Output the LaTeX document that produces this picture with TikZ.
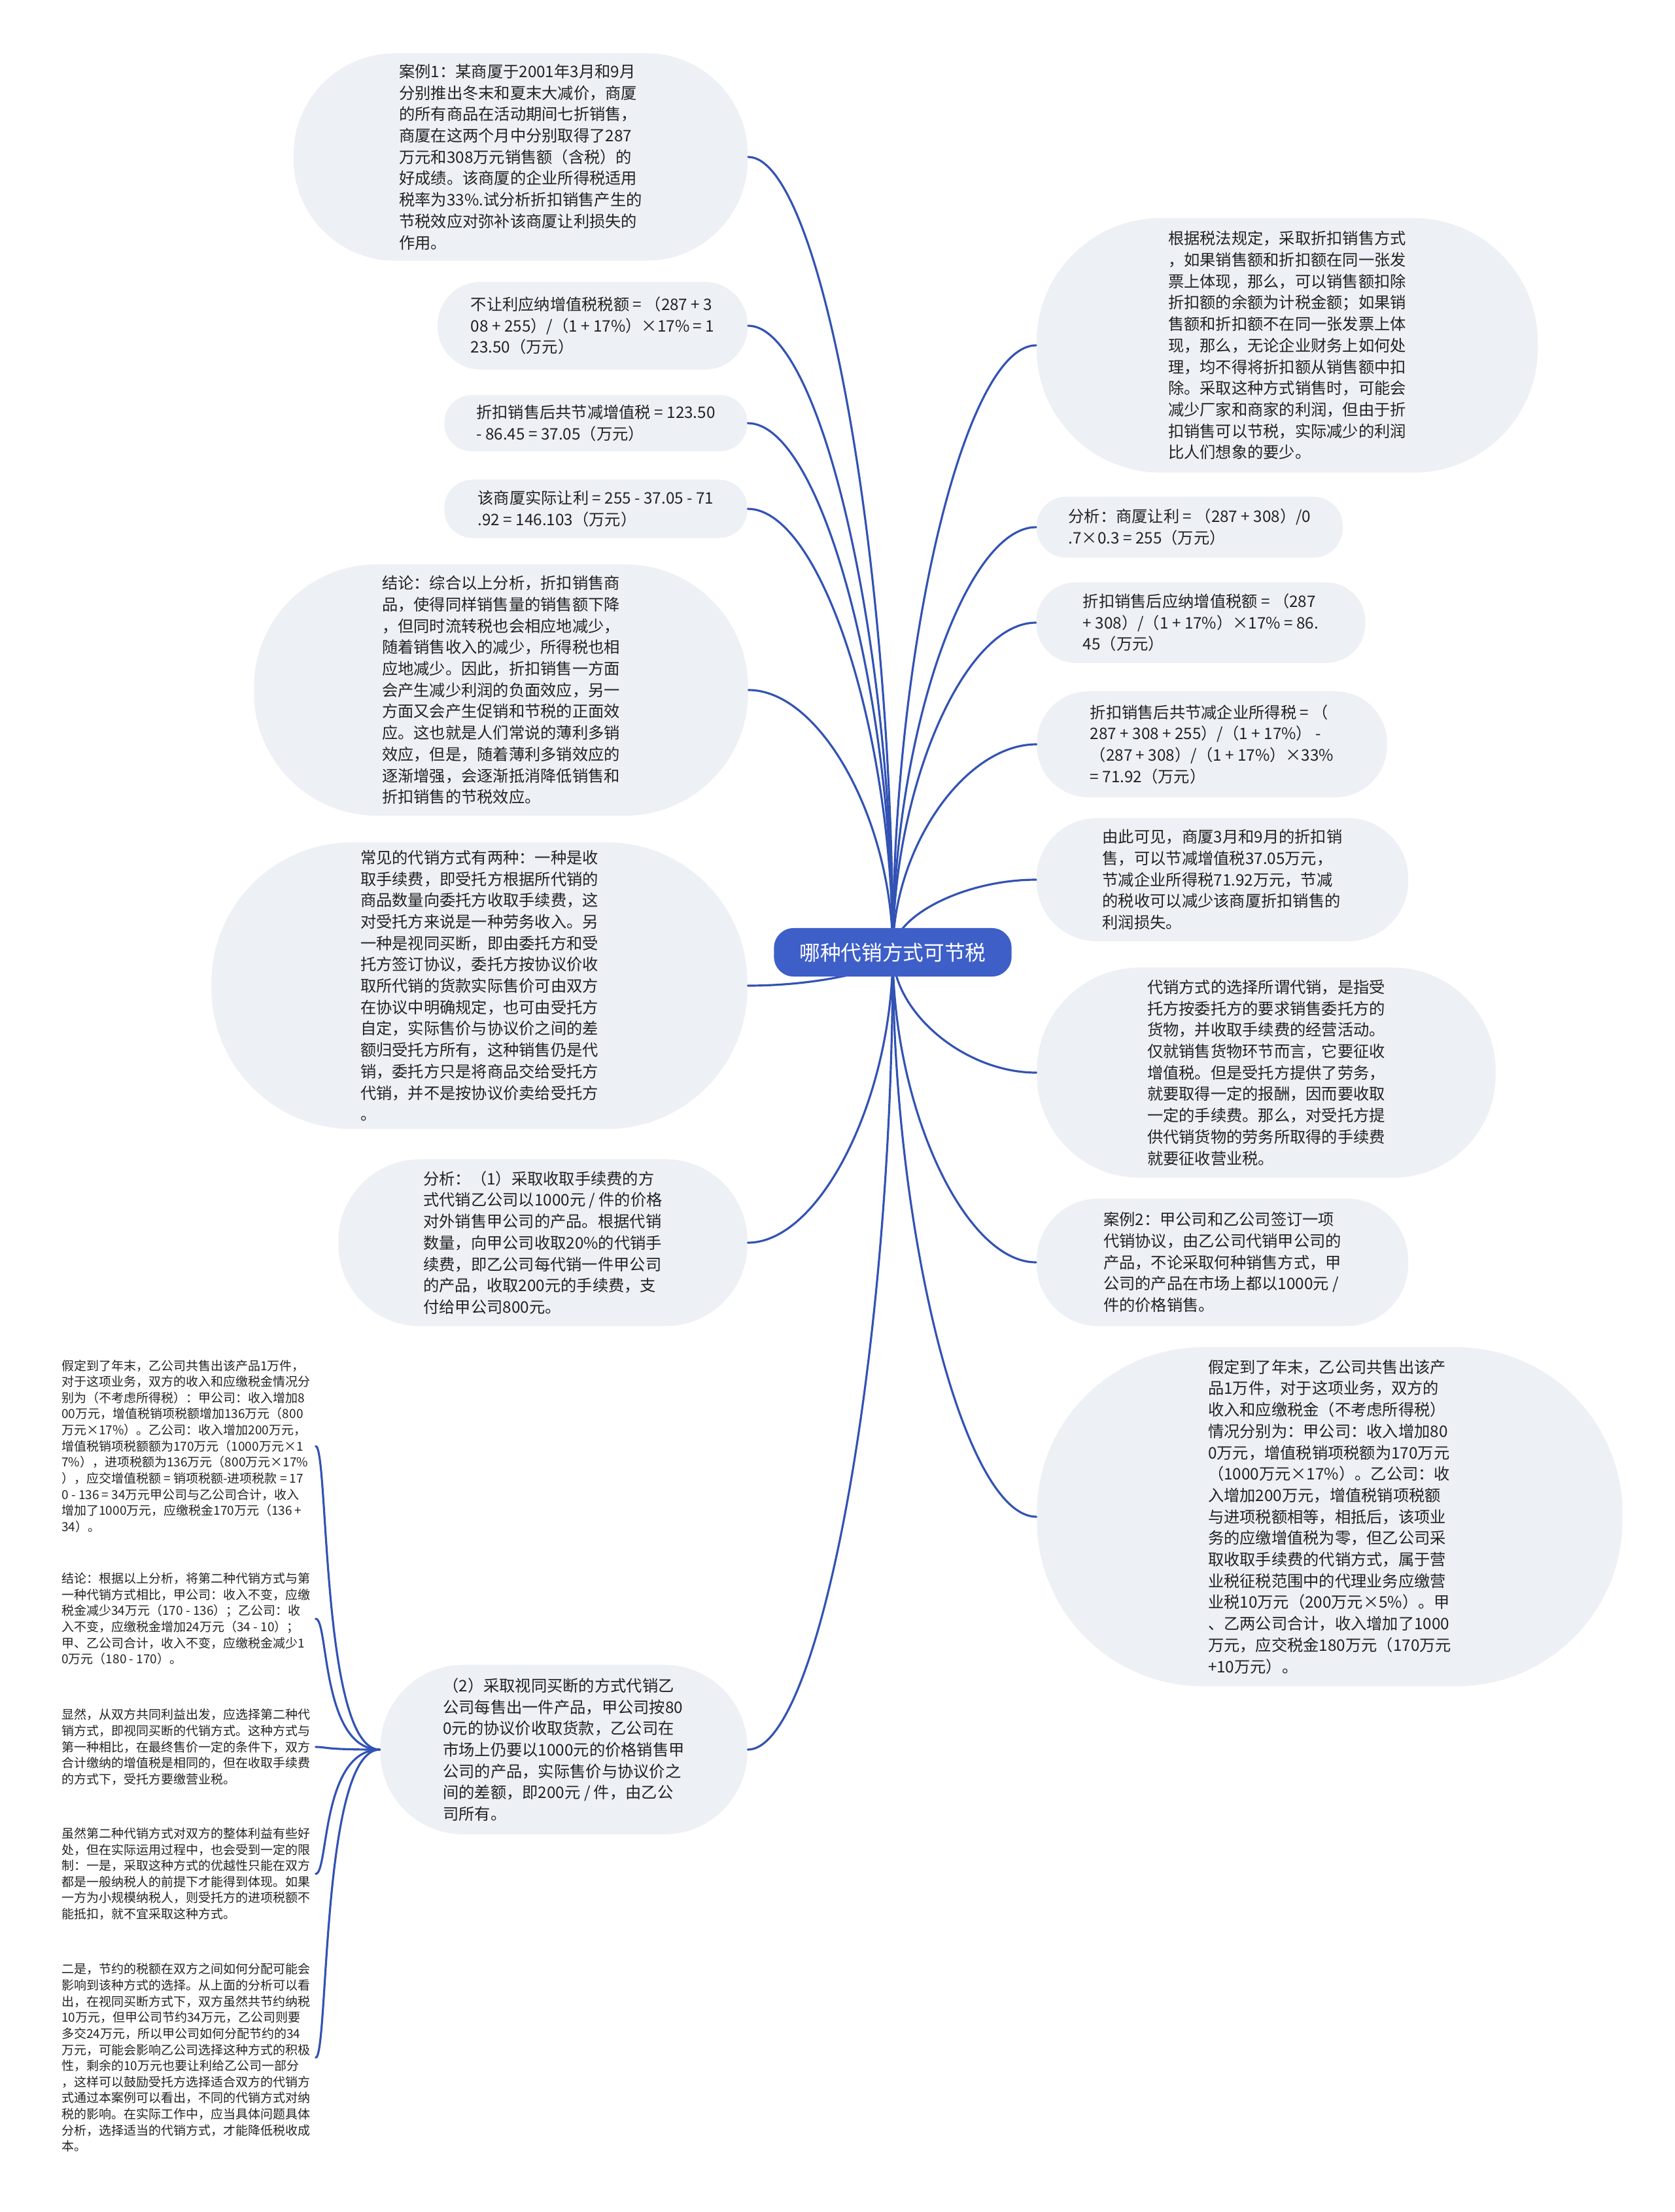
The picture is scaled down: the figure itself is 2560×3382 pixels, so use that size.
\documentclass[tikz,border=0pt]{standalone}
\usepackage{fontspec}
\usetikzlibrary{calc}
\setmainfont{Noto Sans CJK SC}
\definecolor{bubblefill}{RGB}{237,240,245}
\definecolor{rootblue}{RGB}{62,95,200}
\definecolor{linkblue}{RGB}{50,82,180}
\definecolor{inkgray}{RGB}{34,34,34}
\newcommand{\bubfont}{\fontsize{6.9pt}{9.3pt}\selectfont}
\newcommand{\notefont}{\fontsize{5.4pt}{7pt}\selectfont}
\newcommand{\rootfont}{\fontsize{9pt}{11pt}\selectfont}

\begin{document}
\begin{tikzpicture}[x=0.01cm,y=-0.01cm,line cap=round,line join=round,
  bubble/.style={fill=bubblefill,text=inkgray,align=left,inner sep=0pt,font=\bubfont},
  note/.style={text=inkgray,align=left,anchor=west,minimum width=3.95cm,inner sep=0pt,font=\notefont},
  link/.style={draw=linkblue,line width=0.9pt}]
  \useasboundingbox (0,0) rectangle (2560,3382);
  \coordinate (hub) at (1365,1456);
  % 左侧
  \node[bubble,minimum width=6.94cm,minimum height=3.17cm,rounded corners=1.55cm] (L1) at (796,240)
    {案例1：某商厦于2001年3月和9月\\分别推出冬末和夏末大减价，商厦\\的所有商品在活动期间七折销售，\\商厦在这两个月中分别取得了287\\万元和308万元销售额（含税）的\\好成绩。该商厦的企业所得税适用\\税率为33\%.试分析折扣销售产生的\\节税效应对弥补该商厦让利损失的\\作用。};
  \node[bubble,minimum width=4.74cm,minimum height=1.34cm,rounded corners=0.66cm] (L2) at (906,498)
    {不让利应纳增值税税额 = （287 + 3\\08 + 255）/（1 + 17\%）×17\% = 1\\23.50（万元）};
  \node[bubble,minimum width=4.63cm,minimum height=0.86cm,rounded corners=0.42cm] (L3) at (911,647)
    {折扣销售后共节减增值税 = 123.50\\- 86.45 = 37.05（万元）};
  \node[bubble,minimum width=4.63cm,minimum height=0.89cm,rounded corners=0.43cm] (L4) at (911,778)
    {该商厦实际让利 = 255 - 37.05 - 71\\.92 = 146.103（万元）};
  \node[bubble,minimum width=7.55cm,minimum height=3.84cm,rounded corners=1.88cm] (L5) at (766,1055)
    {结论：综合以上分析，折扣销售商\\品，使得同样销售量的销售额下降\\，但同时流转税也会相应地减少，\\随着销售收入的减少，所得税也相\\应地减少。因此，折扣销售一方面\\会产生减少利润的负面效应，另一\\方面又会产生促销和节税的正面效\\应。这也就是人们常说的薄利多销\\效应，但是，随着薄利多销效应的\\逐渐增强，会逐渐抵消降低销售和\\折扣销售的节税效应。};
  \node[bubble,minimum width=8.19cm,minimum height=4.38cm,rounded corners=2.15cm] (L6) at (733,1507)
    {常见的代销方式有两种：一种是收\\取手续费，即受托方根据所代销的\\商品数量向委托方收取手续费，这\\对受托方来说是一种劳务收入。另\\一种是视同买断，即由委托方和受\\托方签订协议，委托方按协议价收\\取所代销的货款实际售价可由双方\\在协议中明确规定，也可由受托方\\自定，实际售价与协议价之间的差\\额归受托方所有，这种销售仍是代\\销，委托方只是将商品交给受托方\\代销，并不是按协议价卖给受托方\\。};
  \node[bubble,minimum width=6.25cm,minimum height=2.55cm,rounded corners=1.25cm] (L7) at (830,1900)
    {分析：（1）采取收取手续费的方\\式代销乙公司以1000元 / 件的价格\\对外销售甲公司的产品。根据代销\\数量，向甲公司收取20\%的代销手\\续费，即乙公司每代销一件甲公司\\的产品，收取200元的手续费，支\\付给甲公司800元。};
  \node[bubble,minimum width=5.61cm,minimum height=2.59cm,rounded corners=1.27cm] (L8) at (862,2675)
    {（2）采取视同买断的方式代销乙\\公司每售出一件产品，甲公司按80\\0元的协议价收取货款，乙公司在\\市场上仍要以1000元的价格销售甲\\公司的产品，实际售价与协议价之\\间的差额，即200元 / 件，由乙公\\司所有。};
  % 右侧
  \node[bubble,minimum width=7.66cm,minimum height=3.89cm,rounded corners=1.9cm] (R1) at (1968,528)
    {根据税法规定，采取折扣销售方式\\，如果销售额和折扣额在同一张发\\票上体现，那么，可以销售额扣除\\折扣额的余额为计税金额；如果销\\售额和折扣额不在同一张发票上体\\现，那么，无论企业财务上如何处\\理，均不得将折扣额从销售额中扣\\除。采取这种方式销售时，可能会\\减少厂家和商家的利润，但由于折\\扣销售可以节税，实际减少的利润\\比人们想象的要少。};
  \node[bubble,minimum width=4.68cm,minimum height=0.93cm,rounded corners=0.45cm] (R2) at (1819,806)
    {分析：商厦让利 = （287 + 308）/0\\.7×0.3 = 255（万元）};
  \node[bubble,minimum width=5.03cm,minimum height=1.23cm,rounded corners=0.6cm] (R3) at (1836,952)
    {折扣销售后应纳增值税额 = （287\\+ 308）/（1 + 17\%）×17\% = 86.\\45（万元）};
  \node[bubble,minimum width=5.35cm,minimum height=1.62cm,rounded corners=0.79cm] (R4) at (1853,1138)
    {折扣销售后共节减企业所得税 = （\\287 + 308 + 255）/（1 + 17\%） -\\（287 + 308）/（1 + 17\%）×33\%\\= 71.92（万元）};
  \node[bubble,minimum width=5.68cm,minimum height=1.88cm,rounded corners=0.92cm] (R5) at (1869,1345)
    {由此可见，商厦3月和9月的折扣销\\售，可以节减增值税37.05万元，\\节减企业所得税71.92万元，节减\\的税收可以减少该商厦折扣销售的\\利润损失。};
  \node[bubble,minimum width=7.01cm,minimum height=3.21cm,rounded corners=1.57cm] (R6) at (1936,1640)
    {代销方式的选择所谓代销，是指受\\托方按委托方的要求销售委托方的\\货物，并收取手续费的经营活动。\\仅就销售货物环节而言，它要征收\\增值税。但是受托方提供了劳务，\\就要取得一定的报酬，因而要收取\\一定的手续费。那么，对受托方提\\供代销货物的劳务所取得的手续费\\就要征收营业税。};
  \node[bubble,minimum width=5.68cm,minimum height=1.95cm,rounded corners=0.95cm] (R7) at (1869,1930)
    {案例2：甲公司和乙公司签订一项\\代销协议，由乙公司代销甲公司的\\产品，不论采取何种销售方式，甲\\公司的产品在市场上都以1000元 /\\件的价格销售。};
  \node[bubble,minimum width=8.95cm,minimum height=5.18cm,rounded corners=2.54cm] (R8) at (2033,2319)
    {假定到了年末，乙公司共售出该产\\品1万件，对于这项业务，双方的\\收入和应缴税金（不考虑所得税）\\情况分别为：甲公司：收入增加80\\0万元，增值税销项税额为170万元\\（1000万元×17\%）。乙公司：收\\入增加200万元，增值税销项税额\\与进项税额相等，相抵后，该项业\\务的应缴增值税为零，但乙公司采\\取收取手续费的代销方式，属于营\\业税征税范围中的代理业务应缴营\\业税10万元（200万元×5\%）。甲\\、乙两公司合计，收入增加了1000\\万元，应交税金180万元（170万元\\+10万元）。};
  % 左下 文字
  \node[note] (T1) at (86,2211)
    {假定到了年末，乙公司共售出该产品1万件，\\对于这项业务，双方的收入和应缴税金情况分\\别为（不考虑所得税）：甲公司：收入增加8\\00万元，增值税销项税额增加136万元（800\\万元×17\%）。乙公司：收入增加200万元，\\增值税销项税额额为170万元（1000万元×1\\7\%），进项税额为136万元（800万元×17\%\\），应交增值税额 = 销项税额-进项税款 = 17\\0 - 136 = 34万元甲公司与乙公司合计，收入\\增加了1000万元，应缴税金170万元（136 +\\34）。};
  \node[note] (T2) at (86,2475)
    {结论：根据以上分析，将第二种代销方式与第\\一种代销方式相比，甲公司：收入不变，应缴\\税金减少34万元（170 - 136）；乙公司：收\\入不变，应缴税金增加24万元（34 - 10）；\\甲、乙公司合计，收入不变，应缴税金减少1\\0万元（180 - 170）。};
  \node[note] (T3) at (86,2671)
    {显然，从双方共同利益出发，应选择第二种代\\销方式，即视同买断的代销方式。这种方式与\\第一种相比，在最终售价一定的条件下，双方\\合计缴纳的增值税是相同的，但在收取手续费\\的方式下，受托方要缴营业税。};
  \node[note] (T4) at (86,2865)
    {虽然第二种代销方式对双方的整体利益有些好\\处，但在实际运用过程中，也会受到一定的限\\制：一是，采取这种方式的优越性只能在双方\\都是一般纳税人的前提下才能得到体现。如果\\一方为小规模纳税人，则受托方的进项税额不\\能抵扣，就不宜采取这种方式。};
  \node[note] (T5) at (86,3146)
    {二是，节约的税额在双方之间如何分配可能会\\影响到该种方式的选择。从上面的分析可以看\\出，在视同买断方式下，双方虽然共节约纳税\\10万元，但甲公司节约34万元，乙公司则要\\多交24万元，所以甲公司如何分配节约的34\\万元，可能会影响乙公司选择这种方式的积极\\性，剩余的10万元也要让利给乙公司一部分\\，这样可以鼓励受托方选择适合双方的代销方\\式通过本案例可以看出，不同的代销方式对纳\\税的影响。在实际工作中，应当具体问题具体\\分析，选择适当的代销方式，才能降低税收成\\本。};
  % 连线
  \foreach \n in {L1,L2,L3,L4,L5,L6,L7,L8}
    \draw[link] (hub) .. controls ($(hub)!0.5!(hub |- \n.east)$) and ($(\n.east)!0.5!(hub |- \n.east)$) .. (\n.east);
  \foreach \n in {R1,R2,R3,R4,R5,R6,R7,R8}
    \draw[link] (hub) .. controls ($(hub)!0.5!(hub |- \n.west)$) and ($(\n.west)!0.5!(hub |- \n.west)$) .. (\n.west);
  \foreach \n in {T1,T2,T3,T4,T5}
    \draw[link] (L8.west) .. controls +(-90,0) and +(20,0) .. (\n.east);
  % 中心
  \node[fill=rootblue,text=white,rounded corners=0.3cm,minimum width=3.63cm,minimum height=0.74cm,font=\rootfont] (root) at (hub) {哪种代销方式可节税};
\end{tikzpicture}
\end{document}
